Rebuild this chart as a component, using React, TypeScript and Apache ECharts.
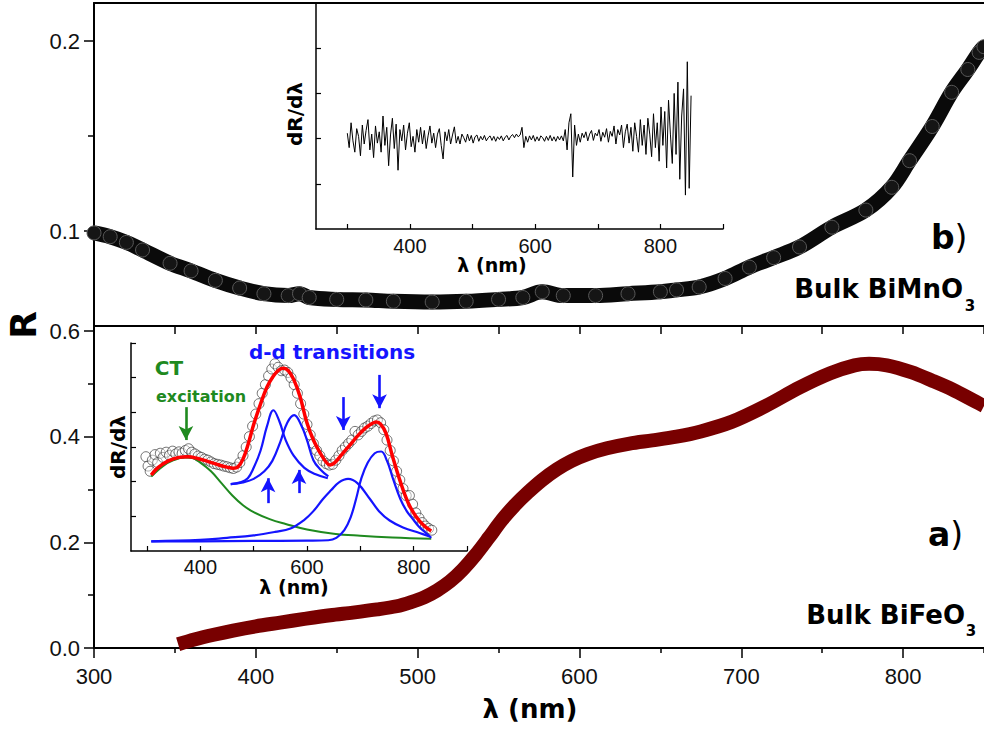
import React, { useEffect, useRef } from "react";
import * as echarts from "echarts";

const TICK_FONT = "'Liberation Sans', Arial, sans-serif";
const BOLD_FONT = "'DejaVu Sans', Verdana, sans-serif";

// ---- Panel (b): bulk BiMnO3 reflectance ----
const bimnoWavelength = [300, 310, 320, 330, 347, 360, 375, 390, 405, 420, 427, 433, 450, 468, 485, 509, 530, 550, 565, 577, 590, 610, 630, 650, 660, 674, 690, 705, 720, 736, 756, 777, 793, 804, 818, 830, 840, 847, 850];
const bimnoR = [0.099, 0.097, 0.094, 0.090, 0.083, 0.079, 0.074, 0.070, 0.067, 0.066, 0.067, 0.065, 0.064, 0.0637, 0.063, 0.0626, 0.063, 0.064, 0.065, 0.068, 0.066, 0.066, 0.067, 0.068, 0.069, 0.0705, 0.075, 0.081, 0.086, 0.0916, 0.102, 0.111, 0.123, 0.137, 0.155, 0.173, 0.185, 0.194, 0.197];

// ---- Inset of (b): dR/dλ of BiMnO3, sampled every 3 nm from 300 nm ----
const derivStart = 300;
const derivStep = 3;
const derivBiMnO = [
  0.12, -0.2, 0.35, -0.05, -0.3, 0.22, 0.05, -0.38, 0.3, -0.12,
  0.18, 0.42, -0.25, 0.1, -0.42, 0.28, -0.1, 0.15, -0.3, 0.5,
  -0.15, 0.25, -0.6, 0.08, 0.45, -0.22, 0.32, -0.7, 0.2, -0.05,
  0.3, -0.25, 0.12, 0.35, -0.18, 0.05, -0.3, 0.2, -0.08, 0.25,
  -0.12, 0.18, -0.22, 0.06, 0.28, -0.1, 0.12, -0.2, 0.1, 0.22,
  -0.15, -0.45, 0.15, -0.05, 0.2, -0.12, 0.08, 0.26, -0.1, 0.05,
  -0.12, 0.1, 0.02, -0.08, 0.1, -0.05, 0.07, -0.1, 0.04, 0.08,
  -0.06, 0.05, -0.03, 0.07, -0.05, 0.02, 0.06, -0.04, 0.05, -0.06,
  0.04, -0.02, 0.06, -0.05, 0.03, 0.07, -0.03, 0.05, 0.09, 0.02,
  0.1, 0.04, 0.08, 0.25, -0.2, 0.05, -0.08, 0.06, -0.03, 0.07,
  -0.06, 0.04, -0.05, 0.06, 0.02, -0.06, 0.05, -0.04, 0.07, -0.05,
  0.04, -0.06, 0.05, -0.03, 0.06, -0.05, 0.2, -0.25, 0.35, 0.55,
  -0.85, 0.3, -0.15, 0.1, -0.08, 0.12, 0.02, 0.15, -0.05, 0.1,
  0.18, -0.04, 0.12, 0.06, 0.2, -0.06, 0.14, 0.03, 0.22, -0.08,
  0.16, 0.05, 0.28, -0.12, 0.2, 0.08, 0.3, -0.2, 0.15, 0.32,
  -0.1, 0.25, -0.28, 0.35, 0.05, -0.3, 0.42, -0.15, 0.3, -0.35,
  0.45, 0.1, -0.4, 0.55, -0.2, 0.35, -0.5, 0.7, -0.15, 0.6,
  -0.65, 0.85, 0.1, -0.55, 1.0, -0.35, 1.25, -0.9, 0.5, 1.1,
  -1.25, 1.7, -1.1, 0.95,
];

// ---- Panel (a): bulk BiFeO3 reflectance ----
const bfoWavelength = [352, 362, 374, 386, 400, 415, 430, 446, 460, 475, 487, 496, 504, 512, 520, 528, 536, 544, 552, 560, 568, 577, 586, 595, 605, 617, 631, 645, 660, 675, 694, 715, 736, 755, 770, 779, 790, 805, 818, 830, 845, 850];
const bfoR = [0.007, 0.016, 0.025, 0.033, 0.041, 0.048, 0.055, 0.062, 0.067, 0.073, 0.079, 0.087, 0.096, 0.109, 0.126, 0.149, 0.177, 0.209, 0.242, 0.270, 0.294, 0.318, 0.338, 0.354, 0.367, 0.378, 0.387, 0.393, 0.400, 0.410, 0.428, 0.458, 0.493, 0.520, 0.535, 0.538, 0.535, 0.522, 0.506, 0.490, 0.466, 0.458];

// ---- Inset of (a): dR/dλ of BiFeO3 with its peak decomposition ----
const bfoDerivWl = [298, 302, 306, 310, 315, 320, 325, 330, 336, 342, 348, 354, 360, 366, 372, 378, 384, 390, 396, 402, 408, 414, 420, 426, 432, 438, 444, 450, 456, 462, 468, 474, 480, 486, 492, 498, 504, 510, 516, 522, 528, 534, 540, 546, 552, 558, 564, 570, 576, 582, 588, 594, 600, 606, 612, 618, 624, 630, 636, 642, 648, 654, 660, 666, 672, 678, 684, 690, 696, 702, 708, 714, 720, 726, 732, 738, 744, 750, 756, 762, 768, 774, 780, 786, 792, 798, 804, 810, 816, 822, 828, 834];
const bfoDeriv = [2.72, 2.45, 2.3, 2.62, 2.78, 2.55, 2.82, 2.7, 2.85, 2.76, 2.88, 2.8, 2.86, 2.82, 2.9, 2.95, 2.85, 2.8, 2.74, 2.7, 2.65, 2.62, 2.57, 2.52, 2.5, 2.48, 2.45, 2.43, 2.4, 2.38, 2.42, 2.55, 2.75, 3.0, 3.3, 3.6, 3.95, 4.25, 4.55, 4.8, 5.05, 5.25, 5.4, 5.3, 5.2, 5.22, 5.15, 5.0, 4.8, 4.55, 4.25, 3.95, 3.65, 3.35, 3.1, 2.9, 2.75, 2.6, 2.52, 2.48, 2.5, 2.62, 2.75, 2.9, 3.0, 3.1, 3.2, 3.45, 3.35, 3.45, 3.55, 3.6, 3.68, 3.75, 3.78, 3.7, 3.5, 3.2, 2.9, 2.6, 2.3, 2.05, 1.8, 1.6, 1.6, 1.35, 1.1, 0.95, 0.82, 0.72, 0.65, 0.6];

const fitWl = [308, 320, 340, 360, 377, 395, 415, 435, 450, 462, 470, 480, 490, 500, 512, 525, 537, 547, 556, 565, 575, 587, 600, 612, 625, 636, 643, 652, 665, 680, 695, 710, 722, 730, 738, 748, 760, 775, 790, 805, 820, 833];
const fitTotal = [2.19, 2.4, 2.6, 2.7, 2.72, 2.67, 2.58, 2.48, 2.42, 2.39, 2.42, 2.65, 3.1, 3.65, 4.2, 4.73, 5.05, 5.22, 5.27, 5.2, 4.95, 4.45, 3.69, 3.2, 2.82, 2.56, 2.48, 2.55, 2.78, 3.05, 3.32, 3.55, 3.68, 3.72, 3.66, 3.4, 2.75, 2.0, 1.38, 0.98, 0.72, 0.58];

const ctWl = [308, 330, 350, 370, 385, 400, 420, 440, 460, 480, 500, 530, 560, 600, 650, 700, 760, 833];
const ctBand = [2.15, 2.45, 2.62, 2.7, 2.68, 2.55, 2.3, 1.95, 1.6, 1.32, 1.12, 0.92, 0.78, 0.62, 0.5, 0.44, 0.39, 0.35];

const ddWl1 = [457, 475, 489, 500, 513, 525, 537, 548, 560, 575, 595, 615, 639];
const ddBand1 = [1.93, 1.98, 2.1, 2.4, 2.9, 3.6, 4.06, 3.75, 3.2, 2.75, 2.4, 2.22, 2.1];

const ddWl2 = [457, 480, 500, 520, 535, 550, 563, 576, 590, 600, 612, 625, 640];
const ddBand2 = [1.93, 1.98, 2.08, 2.3, 2.6, 3.15, 3.7, 3.92, 3.6, 3.2, 2.62, 2.35, 2.15];

const ddWl3 = [308, 400, 450, 500, 540, 569, 595, 612, 630, 645, 660, 677, 695, 718, 735, 755, 780, 811, 830];
const ddBand3 = [0.28, 0.32, 0.38, 0.45, 0.55, 0.65, 0.9, 1.15, 1.5, 1.75, 1.98, 2.08, 1.95, 1.5, 1.15, 0.88, 0.68, 0.52, 0.42];

const ddWl4 = [308, 400, 500, 600, 640, 655, 670, 682, 692, 702, 714, 727, 739, 750, 762, 775, 787, 797, 810, 823, 833];
const ddBand4 = [0.28, 0.28, 0.29, 0.3, 0.31, 0.38, 0.6, 0.98, 1.5, 2.1, 2.55, 2.82, 2.87, 2.6, 2.05, 1.5, 1.15, 0.95, 0.7, 0.52, 0.38];

// Arrows marking the bands: [wavelength, tail, head]
const ctArrow = [373, 4.15, 3.2];
const ddArrows = [
  [527, 1.38, 2.1],
  [585, 1.67, 2.34],
  [668, 4.44, 3.49],
  [736, 5.08, 4.12],
];

// Tick positions
const mainMajorX = [300, 400, 500, 600, 700, 800];
const mainMinorX = [350, 450, 550, 650, 750, 850];
const boundaryX = [300, 350, 400, 450, 500, 550, 600, 650, 700, 750, 800, 850];
const bimnoMajorY = [0.1, 0.2];
const bimnoMinorY = [0.15];
const bfoMajorY = [0.0, 0.2, 0.4, 0.6];
const bfoMinorY = [0.1, 0.3, 0.5];
const insetTicksX = [300, 400, 500, 600, 700, 800, 900];
const insetLabelsX = [400, 600, 800];
const insetTopTicksY = [-1, 0, 1, 2];
const insetBottomTicksY = [1, 2, 3, 4, 5, 6];

const GREEN = "#1f8a1f";
const BLUE = "#1414ff";
const RED = "#ff0000";
const MAROON = "#780000";

const zip = (xs: number[], ys: number[]) => xs.map((x, i) => [x, ys[i]]);

const blackLine = (w: number) => ({ show: true, onZero: false, lineStyle: { color: "#000", width: w } });

function buildOption() {
  const grids = [
    { left: 94, top: 3, width: 891, height: 323 }, // 0 panel b
    { left: 94, top: 326, width: 891, height: 322 }, // 1 panel a
    { left: 316, top: 3, width: 407, height: 226 }, // 2 inset b
    { left: 131, top: 343, width: 336, height: 208 }, // 3 inset a
    { left: 94, top: 3, width: 891, height: 323 }, // 4 minor ticks of panel b
    { left: 94, top: 326, width: 891, height: 322 }, // 5 minor ticks of panel a
  ];

  const hidden = { show: false };
  const noLine = { show: false, onZero: false };

  const xAxis: any[] = [
    {
      gridIndex: 0, type: "value", min: 300, max: 850, position: "bottom",
      axisLine: blackLine(2),
      axisTick: { show: true, inside: false, length: 8, customValues: boundaryX, lineStyle: { width: 1.5, color: "#000" } },
      axisLabel: hidden, splitLine: hidden,
    },
    {
      gridIndex: 0, type: "value", min: 300, max: 850, position: "top",
      axisLine: blackLine(2), axisTick: hidden, axisLabel: hidden, splitLine: hidden,
    },
    {
      gridIndex: 1, type: "value", min: 300, max: 850, position: "bottom",
      axisLine: blackLine(2),
      axisTick: { show: true, inside: false, length: 10, customValues: mainMajorX, lineStyle: { width: 1.5, color: "#000" } },
      axisLabel: { show: true, customValues: mainMajorX, fontFamily: TICK_FONT, fontSize: 22, color: "#111", margin: 17 },
      splitLine: hidden,
    },
    {
      gridIndex: 5, type: "value", min: 300, max: 850, position: "bottom",
      axisLine: noLine,
      axisTick: { show: true, inside: false, length: 5, customValues: mainMinorX, lineStyle: { width: 1.5, color: "#000" } },
      axisLabel: hidden, splitLine: hidden,
    },
    {
      gridIndex: 2, type: "value", min: 250, max: 900, position: "bottom",
      axisLine: blackLine(1.5),
      axisTick: { show: true, inside: true, length: 5, customValues: insetTicksX, lineStyle: { width: 1.2, color: "#000" } },
      axisLabel: { show: true, customValues: insetLabelsX, fontFamily: TICK_FONT, fontSize: 20, color: "#111", margin: 7 },
      splitLine: hidden,
    },
    {
      gridIndex: 3, type: "value", min: 270, max: 900, position: "bottom",
      axisLine: blackLine(1.5),
      axisTick: { show: true, inside: true, length: 5, customValues: insetTicksX, lineStyle: { width: 1.2, color: "#000" } },
      axisLabel: { show: true, customValues: insetLabelsX, fontFamily: TICK_FONT, fontSize: 20, color: "#111", margin: 6 },
      splitLine: hidden,
    },
    {
      gridIndex: 4, type: "value", min: 300, max: 850, show: false,
    },
  ];

  const yAxis: any[] = [
    {
      gridIndex: 0, type: "value", min: 0.05, max: 0.22, position: "left",
      axisLine: blackLine(2),
      axisTick: { show: true, inside: false, length: 10, customValues: bimnoMajorY, lineStyle: { width: 1.5, color: "#000" } },
      axisLabel: { show: true, customValues: bimnoMajorY, formatter: (v: number) => v.toFixed(1), fontFamily: TICK_FONT, fontSize: 22, color: "#111", margin: 14 },
      splitLine: hidden,
    },
    {
      gridIndex: 4, type: "value", min: 0.05, max: 0.22, position: "left",
      axisLine: noLine,
      axisTick: { show: true, inside: false, length: 6, customValues: bimnoMinorY, lineStyle: { width: 1.5, color: "#000" } },
      axisLabel: hidden, splitLine: hidden,
    },
    {
      gridIndex: 1, type: "value", min: 0, max: 0.6095, position: "left",
      axisLine: blackLine(2),
      axisTick: { show: true, inside: false, length: 10, customValues: bfoMajorY, lineStyle: { width: 1.5, color: "#000" } },
      axisLabel: { show: true, customValues: bfoMajorY, formatter: (v: number) => v.toFixed(1), fontFamily: TICK_FONT, fontSize: 22, color: "#111", margin: 14 },
      splitLine: hidden,
    },
    {
      gridIndex: 5, type: "value", min: 0, max: 0.6095, position: "left",
      axisLine: noLine,
      axisTick: { show: true, inside: false, length: 6, customValues: bfoMinorY, lineStyle: { width: 1.5, color: "#000" } },
      axisLabel: hidden, splitLine: hidden,
    },
    {
      gridIndex: 2, type: "value", min: -2, max: 3, position: "left",
      axisLine: blackLine(1.5),
      axisTick: { show: true, inside: true, length: 5, customValues: insetTopTicksY, lineStyle: { width: 1.2, color: "#000" } },
      axisLabel: hidden, splitLine: hidden,
    },
    {
      gridIndex: 3, type: "value", min: 0, max: 6, position: "left",
      axisLine: blackLine(1.5),
      axisTick: { show: true, inside: true, length: 5, customValues: insetBottomTicksY, lineStyle: { width: 1.2, color: "#000" } },
      axisLabel: hidden, splitLine: hidden,
    },
  ];

  const arrowLine = (color: string, items: number[][]) => ({
    silent: true,
    symbol: ["none", "arrow"],
    symbolSize: [11, 14],
    label: { show: false },
    lineStyle: { color, width: 2.6, type: "solid" },
    data: items.map(([wl, tail, head]) => [{ coord: [wl, tail] }, { coord: [wl, head] }]),
  });

  const insetLine = (name: string, data: number[][], color: string, width: number, extra: any = {}) => ({
    name, type: "line", xAxisIndex: 5, yAxisIndex: 5, data,
    smooth: 0.4, showSymbol: false, lineStyle: { color, width }, ...extra,
  });

  const series: any[] = [
    {
      name: "BiMnO3", type: "line", xAxisIndex: 0, yAxisIndex: 0,
      data: zip(bimnoWavelength, bimnoR), smooth: 0.35,
      showSymbol: true, symbol: "circle", symbolSize: 14,
      itemStyle: { color: "#151515", borderColor: "#5a5a5a", borderWidth: 1 },
      lineStyle: { color: "#0a0a0a", width: 15 },
    },
    {
      name: "dR/dλ BiMnO3", type: "line", xAxisIndex: 4, yAxisIndex: 4,
      data: derivBiMnO.map((v, i) => [derivStart + i * derivStep, v]),
      showSymbol: false, lineStyle: { color: "#000", width: 1 },
    },
    {
      name: "BiFeO3", type: "line", xAxisIndex: 2, yAxisIndex: 2,
      data: zip(bfoWavelength, bfoR), smooth: 0.3, showSymbol: false,
      lineStyle: { color: MAROON, width: 14, cap: "butt", join: "round" },
    },
    {
      name: "dR/dλ BiFeO3", type: "scatter", xAxisIndex: 5, yAxisIndex: 5,
      data: zip(bfoDerivWl, bfoDeriv), symbol: "circle", symbolSize: 10,
      itemStyle: { color: "rgba(255,255,255,0.55)", borderColor: "#222", borderWidth: 0.8 },
    },
    insetLine("CT", zip(ctWl, ctBand), GREEN, 2, { markLine: arrowLine(GREEN, [ctArrow]) }),
    insetLine("d-d 1", zip(ddWl1, ddBand1), BLUE, 2.2, { markLine: arrowLine(BLUE, ddArrows) }),
    insetLine("d-d 2", zip(ddWl2, ddBand2), BLUE, 2.2),
    insetLine("d-d 3", zip(ddWl3, ddBand3), BLUE, 2.2),
    insetLine("d-d 4", zip(ddWl4, ddBand4), BLUE, 2.2),
    insetLine("fit", zip(fitWl, fitTotal), RED, 3.5),
  ];

  const txt = (x: number, y: number, text: string, size: number, opts: any = {}) => ({
    type: "text", x, y, rotation: opts.rotation || 0, z: 100,
    style: {
      text, fill: opts.fill || "#000",
      fontFamily: opts.family || BOLD_FONT,
      fontWeight: opts.weight || "bold",
      fontSize: size,
      align: opts.align || "center", verticalAlign: "middle",
      textAlign: opts.align || "center", textVerticalAlign: "middle",
    },
  });

  const graphic = [
    txt(23, 325, "R", 36, { rotation: Math.PI / 2 }),
    txt(530, 709, "λ (nm)", 26),
    txt(492, 265, "λ (nm)", 19),
    txt(294, 587, "λ (nm)", 19),
    txt(295, 114, "dR/dλ", 20, { rotation: Math.PI / 2 }),
    txt(118, 447, "dR/dλ", 20, { rotation: Math.PI / 2 }),
    txt(169, 368, "CT", 20, { fill: GREEN }),
    txt(201, 396, "excitation", 16, { fill: GREEN }),
    txt(332, 352, "d-d transitions", 20, { fill: BLUE }),
    txt(963, 289, "Bulk BiMnO", 26, { align: "right" }),
    txt(970, 306, "3", 15),
    txt(965, 615, "Bulk BiFeO", 26, { align: "right" }),
    txt(971, 631, "3", 15),
    {
      type: "text", x: 931, y: 237, z: 100,
      style: {
        text: "{b|b}{p|)}", align: "left", verticalAlign: "middle", textAlign: "left", textVerticalAlign: "middle",
        rich: {
          b: { fontFamily: BOLD_FONT, fontWeight: "bold", fontSize: 33, fill: "#000" },
          p: { fontFamily: BOLD_FONT, fontWeight: "normal", fontSize: 33, fill: "#000" },
        },
      },
    },
    {
      type: "text", x: 928, y: 534, z: 100,
      style: {
        text: "{b|a}{p|)}", align: "left", verticalAlign: "middle", textAlign: "left", textVerticalAlign: "middle",
        rich: {
          b: { fontFamily: BOLD_FONT, fontWeight: "bold", fontSize: 33, fill: "#000" },
          p: { fontFamily: BOLD_FONT, fontWeight: "normal", fontSize: 33, fill: "#000" },
        },
      },
    },
  ];

  return { animation: false, backgroundColor: "#fff", grid: grids, xAxis, yAxis, series, graphic };
}

export default function App() {
  const ref = useRef<HTMLDivElement>(null);
  useEffect(() => {
    const chart = echarts.init(ref.current!, undefined, { renderer: "svg" });
    chart.setOption(buildOption() as any);
    return () => chart.dispose();
  }, []);
  return (
    <div
      ref={ref}
      style={{ position: "fixed", left: 0, top: 0, width: 984, height: 731, background: "#fff" }}
    />
  );
}
